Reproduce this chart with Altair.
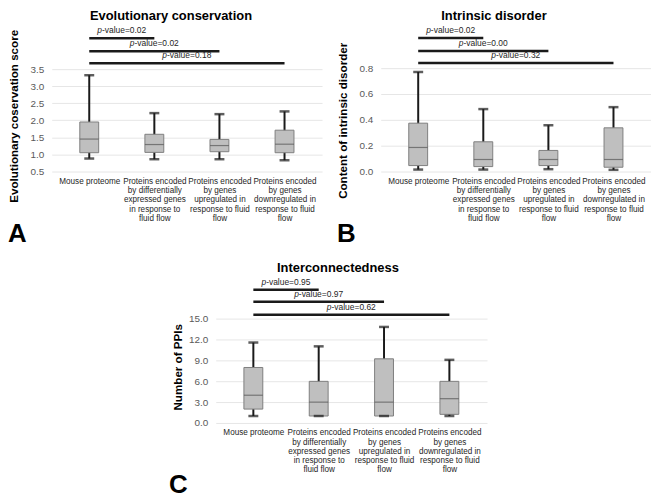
import json
import altair as alt
import pandas as pd

FONT = "Liberation Sans"

# Category labels ("|" marks a line break)
categories = [
    "Mouse proteome",
    "Proteins encoded|by differentially|expressed genes|in response to|fluid flow",
    "Proteins encoded|by genes|upregulated in|response to fluid|flow",
    "Proteins encoded|by genes|downregulated in|response to fluid|flow",
]
cat_index = [0, 1, 2, 3]

# Panel A: Evolutionary conservation
a_low = [0.88, 0.86, 0.86, 0.83]
a_q1 = [1.05, 1.06, 1.08, 1.05]
a_med = [1.45, 1.29, 1.26, 1.30]
a_q3 = [1.95, 1.59, 1.44, 1.71]
a_high = [3.32, 2.21, 2.18, 2.26]
a_pvals = ["0.02", "0.02", "0.18"]
a_bracket = [4.40, 4.02, 3.67]

# Panel B: Intrinsic disorder
b_low = [0.015, 0.015, 0.018, 0.013]
b_q1 = [0.046, 0.038, 0.046, 0.033]
b_med = [0.186, 0.093, 0.093, 0.093]
b_q3 = [0.374, 0.23, 0.163, 0.338]
b_high = [0.77, 0.483, 0.358, 0.498]
b_pvals = ["0.02", "0.00", "0.32"]
b_bracket = [1.033, 0.933, 0.84]

# Panel C: Interconnectedness
c_low = [1.0, 1.0, 1.0, 1.0]
c_q1 = [2.0, 1.0, 1.0, 1.24]
c_med = [4.0, 3.0, 3.0, 3.5]
c_q3 = [8.0, 6.0, 9.25, 6.0]
c_high = [11.6, 11.05, 13.85, 9.1]
c_pvals = ["0.95", "0.97", "0.62"]
c_bracket = [19.2, 17.48, 15.6]

compare_to = [1, 2, 3]

LABEL_EXPR = "split(" + json.dumps(categories) + "[datum.value], '|')"


def panel(title, ytitle, low, q1, med, q3, high, pvals, bracket, domain, ticks,
          fmt, width, height, letter, title_dx, ytitle_dy, letter_dx, letter_dy):
    df = pd.DataFrame({"idx": cat_index, "low": low, "q1": q1, "med": med,
                       "q3": q3, "high": high})
    br = pd.DataFrame({"start": [0, 0, 0], "end": compare_to, "y": bracket,
                       "rest": ["-value=" + p for p in pvals]})
    xscale = alt.Scale(domain=[-0.5, 3.5], nice=False, zero=False)
    yscale = alt.Scale(domain=domain, nice=False, zero=False)
    xaxis = alt.Axis(values=cat_index, labelExpr=LABEL_EXPR, title=None,
                     grid=False, ticks=False, domain=False, labelFlush=False,
                     labelOverlap=False, labelFontSize=8.2, labelLineHeight=9.3,
                     labelPadding=6, labelColor="#262626", labelFont=FONT,
                     labelBaseline="top")
    yaxis = alt.Axis(values=ticks, format=fmt, title=ytitle, grid=True,
                     gridColor="#e6e6e6", gridWidth=1, ticks=False,
                     domain=False, labelFontSize=10, labelPadding=8,
                     labelColor="#595959", labelFont=FONT,
                     titleFont=FONT, titleFontSize=11.7, titleFontWeight="bold",
                     titleColor="black", titleAngle=270, titleX=-38,
                     titleY=height / 2 + ytitle_dy, titleAlign="center",
                     titleBaseline="middle")
    X = alt.X("idx:Q", scale=xscale, axis=xaxis)
    base = alt.Chart(df)
    whisk = base.mark_rule(color="#1a1a1a", strokeWidth=2).encode(
        x=X, y=alt.Y("low:Q", scale=yscale, axis=yaxis), y2="high:Q")
    box = base.mark_bar(size=19, fill="#bfbfbf", stroke="#7f7f7f",
                        strokeWidth=1).encode(
        x=X, y=alt.Y("q1:Q", scale=yscale, axis=yaxis), y2="q3:Q")
    median = base.mark_tick(orient="horizontal", size=19, thickness=1.2,
                            color="#555555").encode(
        x=X, y=alt.Y("med:Q", scale=yscale, axis=yaxis))
    cap_lo = base.mark_tick(orient="horizontal", size=10, thickness=2.5,
                            color="#1a1a1a").encode(
        x=X, y=alt.Y("low:Q", scale=yscale, axis=yaxis))
    cap_hi = base.mark_tick(orient="horizontal", size=10, thickness=2.5,
                            color="#1a1a1a").encode(
        x=X, y=alt.Y("high:Q", scale=yscale, axis=yaxis))
    bb = alt.Chart(br)
    brk = bb.mark_rule(color="#1a1a1a", strokeWidth=2.5).encode(
        x=alt.X("start:Q", scale=xscale, axis=xaxis), x2="end:Q",
        y=alt.Y("y:Q", scale=yscale, axis=yaxis))
    ptxt = bb.transform_calculate(mid="(datum.start + datum.end) / 2").mark_text(
        text="p", fontStyle="italic", font=FONT, fontSize=8.5, color="#262626",
        align="left", baseline="alphabetic", dx=-24.7, dy=-5).encode(
        x=alt.X("mid:Q", scale=xscale, axis=xaxis),
        y=alt.Y("y:Q", scale=yscale, axis=yaxis))
    rtxt = bb.transform_calculate(mid="(datum.start + datum.end) / 2").mark_text(
        font=FONT, fontSize=8.5, color="#262626", align="left",
        baseline="alphabetic", dx=-20, dy=-5).encode(
        x=alt.X("mid:Q", scale=xscale, axis=xaxis),
        y=alt.Y("y:Q", scale=yscale, axis=yaxis), text="rest:N")
    let = alt.Chart(pd.DataFrame({"t": [letter]})).mark_text(
        font=FONT, fontSize=26, fontWeight="bold", color="black", align="left",
        baseline="alphabetic").encode(
        x=alt.value(letter_dx), y=alt.value(height + letter_dy), text="t:N")
    return alt.layer(whisk, box, median, cap_lo, cap_hi, brk, ptxt, rtxt,
                     let).properties(
        width=width, height=height,
        title=alt.TitleParams(title, font=FONT, fontSize=13, fontWeight="bold",
                              color="black", anchor="middle", frame="group",
                              dx=title_dx, offset=3))


pA = panel("Evolutionary conservation", "Evolutionary coservation score",
           a_low, a_q1, a_med, a_q3, a_high, a_pvals, a_bracket,
           [0.5, 4.72], [0.5, 1.0, 1.5, 2.0, 2.5, 3.0, 3.5], ".1f",
           272, 145, "A", -16, 16.5, -44, 71)
pB = panel("Intrinsic disorder", "Content of intrinsic disorder",
           b_low, b_q1, b_med, b_q3, b_high, b_pvals, b_bracket,
           [0.0, 1.115], [0.0, 0.2, 0.4, 0.6, 0.8], ".1f",
           272, 145, "B", -22, 21, -44, 71)
pC = panel("Interconnectedness", "Number of PPIs",
           c_low, c_q1, c_med, c_q3, c_high, c_pvals, c_bracket,
           [0.0, 20.5], [0, 3, 6, 9, 12, 15], ".1f",
           273, 143, "C", -13.5, 15, -47, 70)

row1 = alt.hconcat(pA, pB, spacing=59, bounds="flush")
chart = alt.vconcat(row1, pC, spacing=15, center=True).properties(
    padding=0, background="white").configure_view(stroke=None)

chart.save("out.html", embed_options={"renderer": "svg", "actions": False})
